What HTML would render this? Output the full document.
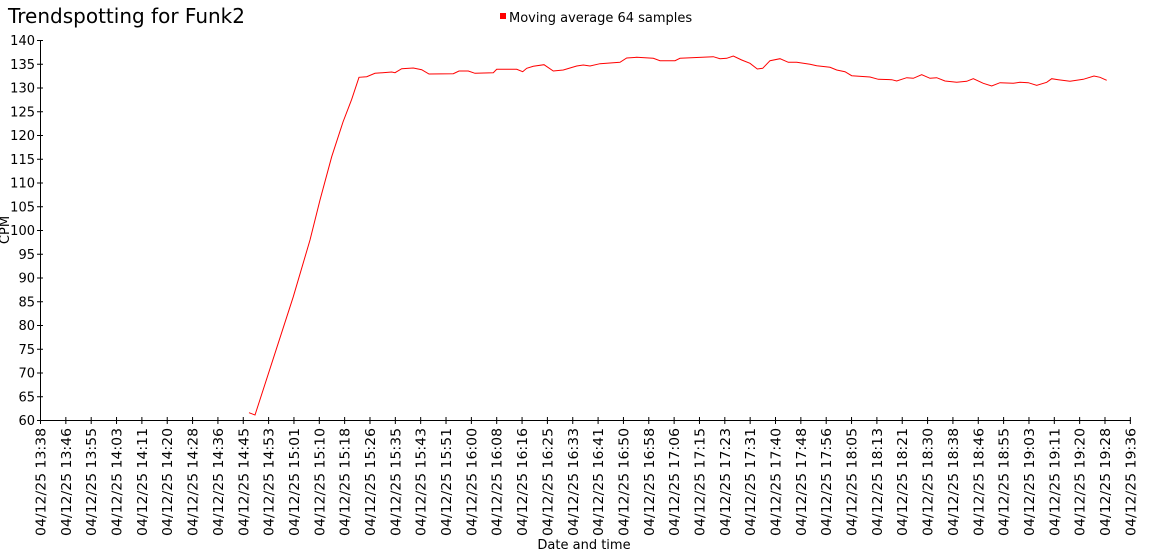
<!DOCTYPE html>
<html><head><meta charset="utf-8"><style>
html,body{margin:0;padding:0;background:#fff;}
svg{display:block;font-family:"DejaVu Sans","Liberation Sans",sans-serif;}
</style></head><body>
<svg width="1150" height="560" viewBox="0 0 1150 560" xmlns="http://www.w3.org/2000/svg">
<text x="8" y="23" font-size="20" fill="#000">Trendspotting for Funk2</text>
<rect x="500" y="13" width="6" height="6" fill="#ff0000"/>
<text x="509" y="22" font-size="13" fill="#000">Moving average 64 samples</text>
<g stroke="#000" stroke-width="1" fill="none">
<line x1="40.5" y1="40" x2="40.5" y2="420.5"/>
<line x1="40" y1="420.5" x2="1131" y2="420.5"/>
<path d="M37 420.5h6M37 396.75h6M37 373h6M37 349.25h6M37 325.5h6M37 301.75h6M37 278h6M37 254.25h6M37 230.5h6M37 206.75h6M37 183h6M37 159.25h6M37 135.5h6M37 111.75h6M37 88h6M37 64.25h6M37 40.5h6"/>
<path d="M40.5 417v7M65.85 417v7M91.19 417v7M116.54 417v7M141.88 417v7M167.23 417v7M192.57 417v7M217.92 417v7M243.26 417v7M268.61 417v7M293.95 417v7M319.3 417v7M344.64 417v7M369.99 417v7M395.33 417v7M420.68 417v7M446.02 417v7M471.37 417v7M496.71 417v7M522.06 417v7M547.4 417v7M572.75 417v7M598.09 417v7M623.44 417v7M648.78 417v7M674.13 417v7M699.47 417v7M724.82 417v7M750.16 417v7M775.51 417v7M800.85 417v7M826.2 417v7M851.54 417v7M876.89 417v7M902.23 417v7M927.58 417v7M952.92 417v7M978.27 417v7M1003.61 417v7M1028.96 417v7M1054.3 417v7M1079.65 417v7M1104.99 417v7M1130.34 417v7"/>
</g>
<g font-size="13" text-anchor="end" fill="#000">
<text x="35" y="425">60</text><text x="35" y="401.25">65</text><text x="35" y="377.5">70</text><text x="35" y="353.75">75</text><text x="35" y="330">80</text><text x="35" y="306.25">85</text><text x="35" y="282.5">90</text><text x="35" y="258.75">95</text><text x="35" y="235">100</text><text x="35" y="211.25">105</text><text x="35" y="187.5">110</text><text x="35" y="163.75">115</text><text x="35" y="140">120</text><text x="35" y="116.25">125</text><text x="35" y="92.5">130</text><text x="35" y="68.75">135</text><text x="35" y="45">140</text>
</g>
<g font-size="13" text-anchor="end" fill="#000" textLength="108" lengthAdjust="spacingAndGlyphs">
<text transform="translate(45.5,428) rotate(-90)" textLength="108" lengthAdjust="spacingAndGlyphs">04/12/25 13:38</text>
<text transform="translate(70.85,428) rotate(-90)" textLength="108" lengthAdjust="spacingAndGlyphs">04/12/25 13:46</text>
<text transform="translate(96.19,428) rotate(-90)" textLength="108" lengthAdjust="spacingAndGlyphs">04/12/25 13:55</text>
<text transform="translate(121.54,428) rotate(-90)" textLength="108" lengthAdjust="spacingAndGlyphs">04/12/25 14:03</text>
<text transform="translate(146.88,428) rotate(-90)" textLength="108" lengthAdjust="spacingAndGlyphs">04/12/25 14:11</text>
<text transform="translate(172.23,428) rotate(-90)" textLength="108" lengthAdjust="spacingAndGlyphs">04/12/25 14:20</text>
<text transform="translate(197.57,428) rotate(-90)" textLength="108" lengthAdjust="spacingAndGlyphs">04/12/25 14:28</text>
<text transform="translate(222.92,428) rotate(-90)" textLength="108" lengthAdjust="spacingAndGlyphs">04/12/25 14:36</text>
<text transform="translate(248.26,428) rotate(-90)" textLength="108" lengthAdjust="spacingAndGlyphs">04/12/25 14:45</text>
<text transform="translate(273.61,428) rotate(-90)" textLength="108" lengthAdjust="spacingAndGlyphs">04/12/25 14:53</text>
<text transform="translate(298.95,428) rotate(-90)" textLength="108" lengthAdjust="spacingAndGlyphs">04/12/25 15:01</text>
<text transform="translate(324.3,428) rotate(-90)" textLength="108" lengthAdjust="spacingAndGlyphs">04/12/25 15:10</text>
<text transform="translate(349.64,428) rotate(-90)" textLength="108" lengthAdjust="spacingAndGlyphs">04/12/25 15:18</text>
<text transform="translate(374.99,428) rotate(-90)" textLength="108" lengthAdjust="spacingAndGlyphs">04/12/25 15:26</text>
<text transform="translate(400.33,428) rotate(-90)" textLength="108" lengthAdjust="spacingAndGlyphs">04/12/25 15:35</text>
<text transform="translate(425.68,428) rotate(-90)" textLength="108" lengthAdjust="spacingAndGlyphs">04/12/25 15:43</text>
<text transform="translate(451.02,428) rotate(-90)" textLength="108" lengthAdjust="spacingAndGlyphs">04/12/25 15:51</text>
<text transform="translate(476.37,428) rotate(-90)" textLength="108" lengthAdjust="spacingAndGlyphs">04/12/25 16:00</text>
<text transform="translate(501.71,428) rotate(-90)" textLength="108" lengthAdjust="spacingAndGlyphs">04/12/25 16:08</text>
<text transform="translate(527.06,428) rotate(-90)" textLength="108" lengthAdjust="spacingAndGlyphs">04/12/25 16:16</text>
<text transform="translate(552.4,428) rotate(-90)" textLength="108" lengthAdjust="spacingAndGlyphs">04/12/25 16:25</text>
<text transform="translate(577.75,428) rotate(-90)" textLength="108" lengthAdjust="spacingAndGlyphs">04/12/25 16:33</text>
<text transform="translate(603.09,428) rotate(-90)" textLength="108" lengthAdjust="spacingAndGlyphs">04/12/25 16:41</text>
<text transform="translate(628.44,428) rotate(-90)" textLength="108" lengthAdjust="spacingAndGlyphs">04/12/25 16:50</text>
<text transform="translate(653.78,428) rotate(-90)" textLength="108" lengthAdjust="spacingAndGlyphs">04/12/25 16:58</text>
<text transform="translate(679.13,428) rotate(-90)" textLength="108" lengthAdjust="spacingAndGlyphs">04/12/25 17:06</text>
<text transform="translate(704.47,428) rotate(-90)" textLength="108" lengthAdjust="spacingAndGlyphs">04/12/25 17:15</text>
<text transform="translate(729.82,428) rotate(-90)" textLength="108" lengthAdjust="spacingAndGlyphs">04/12/25 17:23</text>
<text transform="translate(755.16,428) rotate(-90)" textLength="108" lengthAdjust="spacingAndGlyphs">04/12/25 17:31</text>
<text transform="translate(780.51,428) rotate(-90)" textLength="108" lengthAdjust="spacingAndGlyphs">04/12/25 17:40</text>
<text transform="translate(805.85,428) rotate(-90)" textLength="108" lengthAdjust="spacingAndGlyphs">04/12/25 17:48</text>
<text transform="translate(831.2,428) rotate(-90)" textLength="108" lengthAdjust="spacingAndGlyphs">04/12/25 17:56</text>
<text transform="translate(856.54,428) rotate(-90)" textLength="108" lengthAdjust="spacingAndGlyphs">04/12/25 18:05</text>
<text transform="translate(881.89,428) rotate(-90)" textLength="108" lengthAdjust="spacingAndGlyphs">04/12/25 18:13</text>
<text transform="translate(907.23,428) rotate(-90)" textLength="108" lengthAdjust="spacingAndGlyphs">04/12/25 18:21</text>
<text transform="translate(932.58,428) rotate(-90)" textLength="108" lengthAdjust="spacingAndGlyphs">04/12/25 18:30</text>
<text transform="translate(957.92,428) rotate(-90)" textLength="108" lengthAdjust="spacingAndGlyphs">04/12/25 18:38</text>
<text transform="translate(983.27,428) rotate(-90)" textLength="108" lengthAdjust="spacingAndGlyphs">04/12/25 18:46</text>
<text transform="translate(1008.61,428) rotate(-90)" textLength="108" lengthAdjust="spacingAndGlyphs">04/12/25 18:55</text>
<text transform="translate(1033.96,428) rotate(-90)" textLength="108" lengthAdjust="spacingAndGlyphs">04/12/25 19:03</text>
<text transform="translate(1059.3,428) rotate(-90)" textLength="108" lengthAdjust="spacingAndGlyphs">04/12/25 19:11</text>
<text transform="translate(1084.65,428) rotate(-90)" textLength="108" lengthAdjust="spacingAndGlyphs">04/12/25 19:20</text>
<text transform="translate(1109.99,428) rotate(-90)" textLength="108" lengthAdjust="spacingAndGlyphs">04/12/25 19:28</text>
<text transform="translate(1135.34,428) rotate(-90)" textLength="108" lengthAdjust="spacingAndGlyphs">04/12/25 19:36</text>
</g>
<text transform="translate(9,230) rotate(-90)" font-size="13" text-anchor="middle">CPM</text>
<text x="584" y="549" font-size="13" text-anchor="middle">Date and time</text>
<polyline fill="none" stroke="#ff0000" stroke-width="1" points="249,412.7 255,415 293.3,296.7 310,240 320,200 331.7,156.7 343,122 351.7,99.3 359,77.3 366.7,76.7 375,73.3 391.7,72 395,72.7 401.7,68.7 413.3,68 421.7,69.7 429,74 453.3,73.7 459,71 468.3,71 475,73.3 493.3,72.7 496.7,69.3 516.7,69.3 522.7,71.7 526.7,68.3 533.3,66.3 544,64.7 553.3,71 563.3,70 576.7,66 583.3,65 590,66 600,63.7 620,62.3 626.7,58 636.7,57.3 653.3,58.3 660,60.7 675,60.7 680,58.3 713.3,56.7 720,58.7 726.7,58.3 733.3,56 741.7,60 750,63.3 757.3,69 762.7,68.3 770,60.7 780,58.7 788.3,62.3 796.7,62.3 810,64.3 816.7,65.7 830,67.3 836.7,70 845,71.7 851.7,75.7 870,77 878.3,79.3 891.7,79.7 896.7,81 906.7,77.7 913.3,78.3 921.7,74.7 930,78.3 936.7,77.7 945,81 956.7,82.3 966.7,81.3 973.3,78.7 983.3,83.3 991.7,86 1000,82.7 1013.3,83.3 1020,82.3 1028.3,82.7 1036.7,85.3 1046.7,82.3 1051.7,78.7 1058.3,79.7 1070,81.3 1083.3,79.3 1094,76 1100,77.3 1106.7,80.3"/>
</svg>
</body></html>
